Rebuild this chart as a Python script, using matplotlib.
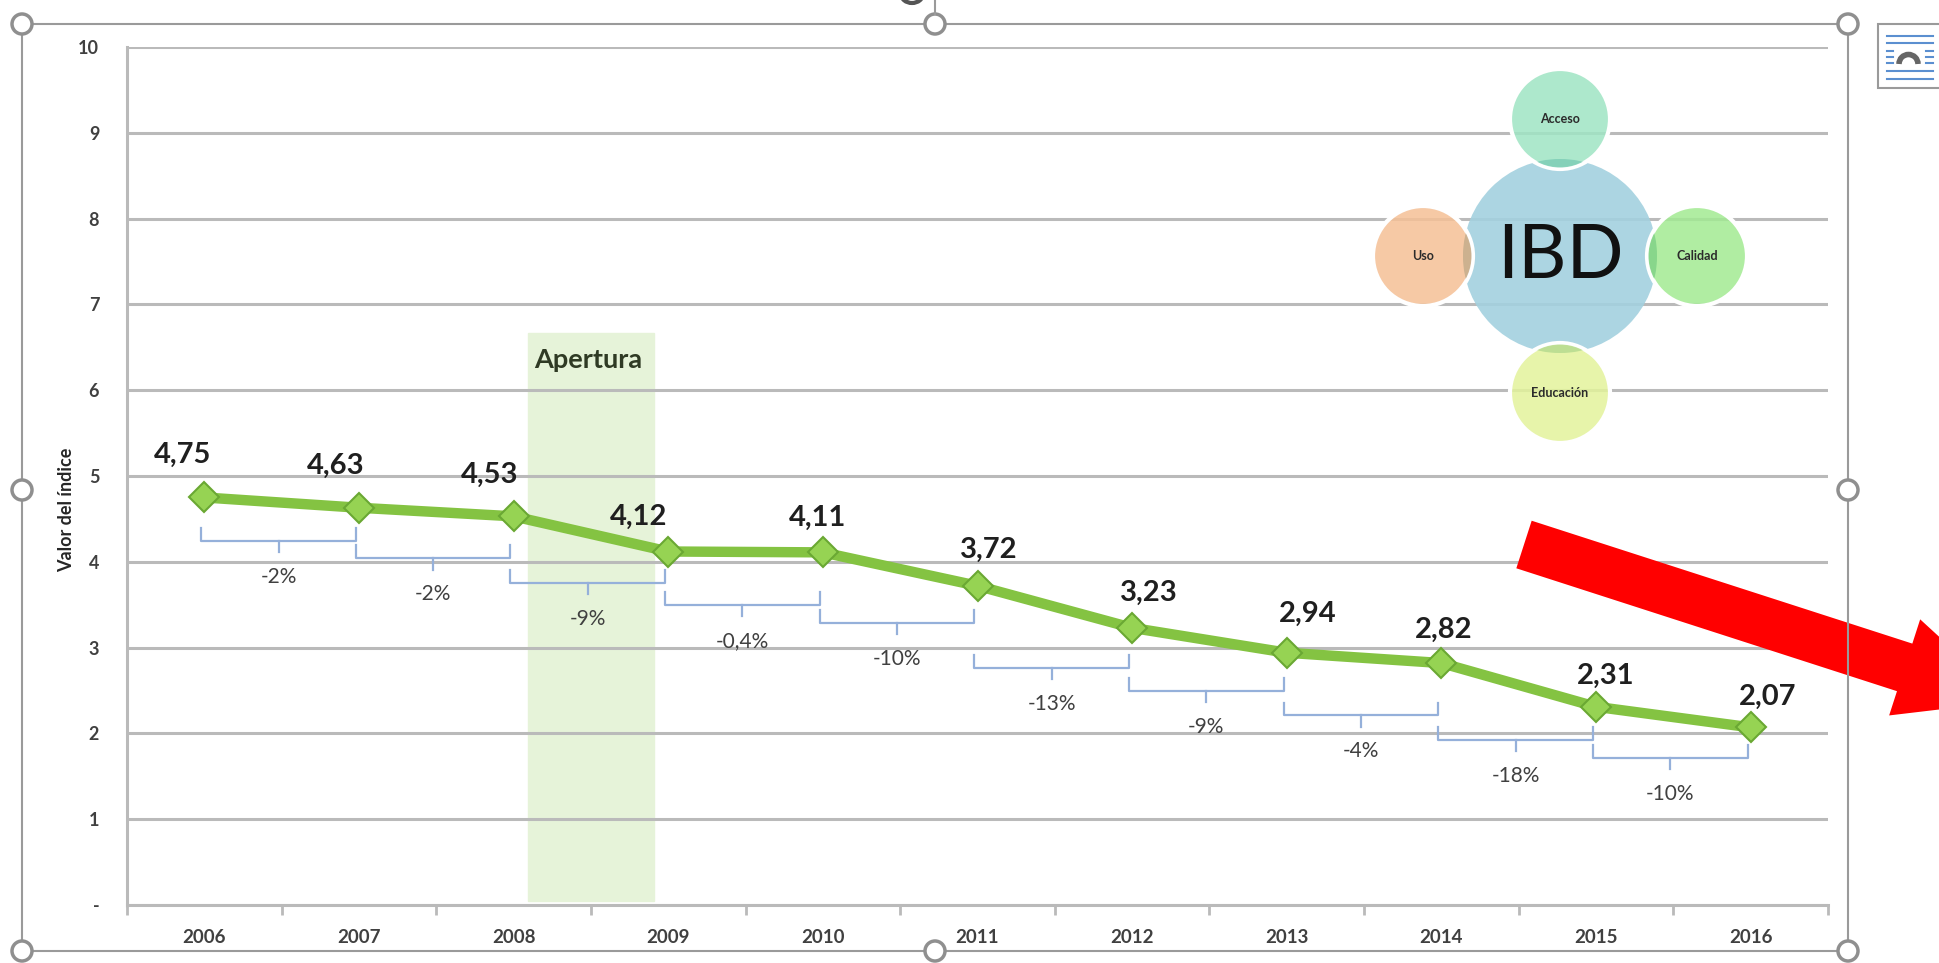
import numpy as np
import matplotlib
matplotlib.use('Agg')
import matplotlib.pyplot as plt
from matplotlib.patches import Circle, Rectangle, FancyArrow, Arc
from matplotlib.ticker import FuncFormatter
from matplotlib.colors import to_rgba, to_rgb

plt.rcParams['font.family'] = ['Lato', 'DejaVu Sans']

# data
years = ['2006', '2007', '2008', '2009', '2010', '2011', '2012', '2013', '2014', '2015', '2016']
ibd_values = [4.75, 4.63, 4.53, 4.12, 4.11, 3.72, 3.23, 2.94, 2.82, 2.31, 2.07]
pct_labels = ['-2%', '-2%', '-9%', '-0,4%', '-10%', '-13%', '-9%', '-4%', '-18%', '-10%']
components = ['Acceso', 'Calidad', 'Educación', 'Uso']
comp_colors = ['#9fe5c4', '#a2ea92', '#e3f39b', '#f5c096']

# layout (hand placed in the original)
bracket_y = [4.24, 4.04, 3.75, 3.50, 3.29, 2.76, 2.50, 2.21, 1.92, 1.71]
label_dx = [-16, -17, -17, -21, -4, 8, 12, 15, 2, 7, 12]
label_dy = [31, 30, 30, 25, 25, 26, 25, 28, 24, 22, 22]
comp_angles = [90, 0, 270, 180]

W, H = 1940, 963
fig = plt.figure(figsize=(W / 100, H / 100), dpi=100)
fig.patch.set_facecolor('white')

ax = fig.add_axes([127 / W, 1 - 905 / H, (1828 - 127) / W, (905 - 47) / H])
x = np.arange(len(years))
ax.set_xlim(-0.5, len(years) - 0.5)
ax.set_ylim(0, 10)
ax.set_yticks(range(0, 11))
ax.yaxis.set_major_formatter(FuncFormatter(lambda v, p: '-' if v == 0 else '%d' % v))
ax.grid(axis='y', color='#bababa', lw=2.2)
ax.set_axisbelow(True)
for s in ['top', 'right']:
    ax.spines[s].set_visible(False)
for s in ['left', 'bottom']:
    ax.spines[s].set_color('#bababa')
    ax.spines[s].set_linewidth(2.2)
ax.tick_params(axis='y', length=0, pad=20, labelsize=13, labelcolor='#404040')
ax.set_xticks(x, years)
ax.set_xticks(np.arange(-0.5, len(years)), minor=True)
ax.tick_params(axis='x', which='major', length=0, pad=17, labelsize=13.5, labelcolor='#404040')
ax.tick_params(axis='x', which='minor', length=7, width=2, color='#bababa')
for lbl in ax.get_xticklabels() + ax.get_yticklabels():
    lbl.set_fontweight('bold')

# Apertura band
ax.add_patch(Rectangle((2.09, 0.05), 0.82, 6.62, color='#e6f3d9', zorder=0.3))
ax.text(2.13, 6.35, 'Apertura', fontsize=19.5, fontweight='bold', color='#2f3a24',
        ha='left', va='center', zorder=2)

# main series
ax.plot(x, ibd_values, color='#84c342', lw=7.5, zorder=3)
ax.plot(x, ibd_values, ls='none', marker='D', ms=15, mfc='#96d353', mec='#6aa833',
        mew=1.5, zorder=4)
for xi, v, dx, dy in zip(x, ibd_values, label_dx, label_dy):
    ax.annotate(('%.2f' % v).replace('.', ','), (xi, v), xytext=(dx, dy),
                textcoords='offset points', ha='center', va='center',
                fontsize=21, fontweight='bold', color='#1f1f1f', zorder=5)

# brackets with the yearly change
for i, (yb, txt) in enumerate(zip(bracket_y, pct_labels)):
    x0, x1 = x[i] - 0.02, x[i + 1] - 0.02
    xm = (x0 + x1) / 2
    ax.plot([x0, x0, x1, x1], [yb + 0.15, yb, yb, yb + 0.15], color='#95b0da', lw=1.6, zorder=2)
    ax.plot([xm, xm], [yb, yb - 0.13], color='#95b0da', lw=1.6, zorder=2)
    ax.text(xm, yb - 0.42, txt, fontsize=15, color='#404040', ha='center', va='center')

fig.text(67 / W, 1 - 510 / H, 'Valor del índice', rotation=90, ha='center', va='center',
         fontsize=13, fontweight='bold', color='#262626')

# overlay in pixel coordinates: diagram, arrow and the Word selection frame
ov = fig.add_axes([0, 0, 1, 1], zorder=5)
ov.set_xlim(0, W)
ov.set_ylim(H, 0)
ov.axis('off')
ov.patch.set_alpha(0)

cx, cy, cr = 1560, 256, 97
centre_col = '#a3d1df'
ov.add_patch(Circle((cx, cy), cr, facecolor=to_rgba(centre_col, 0.9), edgecolor='none'))
for name, col, ang in zip(components, comp_colors, comp_angles):
    sx = cx + 137 * np.cos(np.radians(ang))
    sy = cy - 137 * np.sin(np.radians(ang))
    sat = Circle((sx, sy), 50, facecolor=to_rgba(col, 0.85), edgecolor='white', lw=3)
    ov.add_patch(sat)
    # darker overlap where the satellite covers the centre circle
    mix = 0.5 * np.array(to_rgb(col)) * np.array(to_rgb(centre_col)) + 0.5 * np.array(to_rgb(col))
    ovl = Circle((cx, cy), cr, facecolor=to_rgba(mix, 0.9), edgecolor='none')
    ov.add_patch(ovl)
    ovl.set_clip_path(Circle((sx, sy), 48.5, transform=ov.transData))
    ov.text(sx, sy, name, fontsize=9, fontweight='bold', color='#2b2b2b',
            ha='center', va='center')
ov.text(cx, cy, 'IBD', fontsize=54, color='#111111', ha='center', va='center')

ang = np.arctan2(123, 381)
L = 510
ov.add_patch(FancyArrow(1524, 544.5, L * np.cos(ang), L * np.sin(ang), width=50,
                        head_width=101, head_length=110, length_includes_head=True,
                        color='#ff0000', lw=0))

ov.add_patch(Rectangle((22, 24), 1848 - 22, 951 - 24, fill=False, edgecolor='#9a9a9a', lw=1.5))
ov.plot([935, 935], [0, 14], color='#9a9a9a', lw=1.5)
ov.add_patch(Arc((912, -6), 22, 18, theta1=0, theta2=180, color='#555555', lw=3))
for hx, hy in [(22, 24), (935, 24), (1848, 24), (22, 490), (1848, 490),
               (22, 951), (935, 951), (1848, 951)]:
    ov.add_patch(Circle((hx, hy), 10, facecolor='white', edgecolor='#8f8f8f', lw=2.5))

# layout options icon
ov.add_patch(Rectangle((1878, 24), 80, 64, facecolor='white', edgecolor='#9a9a9a', lw=1.5))
for yy in [36, 43, 71, 79]:
    ov.plot([1887, 1933], [yy, yy], color='#5b8fd0', lw=1.5)
for yy in [51.5, 57.5, 63.5]:
    ov.plot([1887, 1893], [yy, yy], color='#5b8fd0', lw=1.5)
    ov.plot([1926, 1933], [yy, yy], color='#5b8fd0', lw=1.5)
ov.add_patch(Arc((1908.5, 64), 19, 19, theta1=180, theta2=360, color='#666666', lw=4))

fig.savefig('out.png', dpi=100)
